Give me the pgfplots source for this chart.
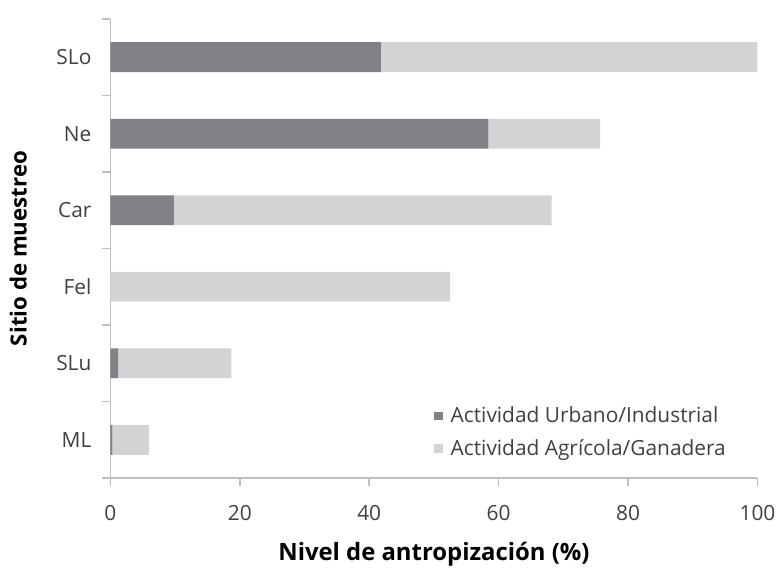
\documentclass[border=0pt]{standalone}
\usepackage{pgfplots}
\pgfplotsset{compat=1.18}
\usepackage{fontspec}
\setmainfont{Open Sans}
\definecolor{darkbar}{HTML}{808285}
\definecolor{lightbar}{HTML}{D1D3D4}
\definecolor{axisgray}{HTML}{BFBFBF}
\definecolor{txt}{HTML}{404040}
\begin{document}
\begin{tikzpicture}
\begin{axis}[
  scale only axis,
  width=325.5pt, height=231pt,
  xbar stacked,
  bar width=0.39,
  xmin=0, xmax=100,
  ymin=-0.5, ymax=5.5,
  xtick={0,20,40,60,80,100},
  ytick={0,1,2,3,4,5},
  yticklabels={ML,SLu,Fel,Car,Ne,SLo},
  minor ytick={-0.5,0.5,1.5,2.5,3.5,4.5,5.5},
  axis x line*=bottom,
  axis y line*=left,
  axis line style={axisgray, line width=0.8pt},
  major tick length=4pt,
  minor tick length=4pt,
  tick align=outside,
  every tick/.style={axisgray, line width=0.8pt},
  every major y tick/.append style={draw=none},
  every minor y tick/.append style={draw=axisgray},
  ticklabel style={font=\fontsize{10.5}{12}\selectfont, text=txt},
  /pgf/number format/assume math mode=true,
  xticklabel style={yshift=-6pt},
  yticklabel style={xshift=-2pt},
  xlabel={\textbf{Nivel de antropización (\%)}},
  ylabel={\textbf{Sitio de muestreo}},
  xlabel style={font=\fontsize{12}{14}\selectfont, text=black, yshift=-4pt},
  ylabel style={font=\fontsize{11.2}{13}\selectfont, text=black, yshift=8pt},
  legend style={at={(0.49,0.025)}, anchor=south west, draw=none, fill=none,
    font=\fontsize{10.5}{12}\selectfont, text=txt, row sep=3pt,
    legend cell align=left},
  legend image code/.code={\fill[#1] (0pt,-2.2pt) rectangle (4.4pt,2.2pt);\path (6.5pt,0pt);},
]
\addplot[fill=darkbar, draw=none] coordinates {(0.3,0) (1.2,1) (0,2) (9.8,3) (58.4,4) (41.8,5)};
\addplot[fill=lightbar, draw=none] coordinates {(5.7,0) (17.5,1) (52.5,2) (58.4,3) (17.3,4) (58.2,5)};
\legend{Actividad Urbano/Industrial, Actividad Agrícola/Ganadera}
\coordinate (bl) at (rel axis cs:0,0);
\coordinate (tr) at (rel axis cs:1,1);
\end{axis}
\path ([shift={(-55.5pt,-41pt)}]bl) rectangle ([shift={(10pt,9.5pt)}]tr);
\end{tikzpicture}
\end{document}
